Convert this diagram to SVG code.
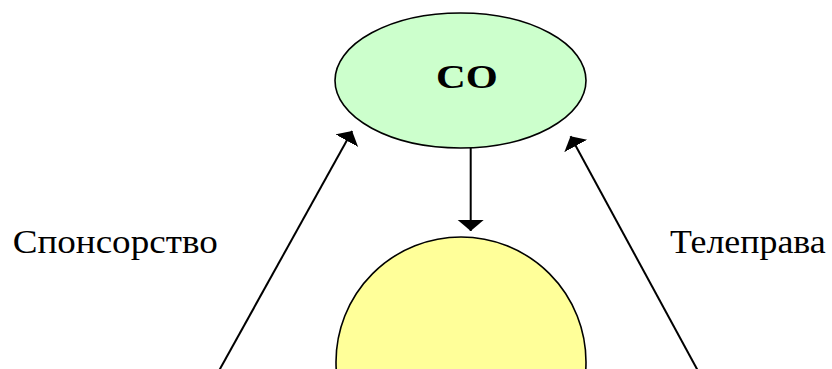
<svg xmlns="http://www.w3.org/2000/svg" width="832" height="369" viewBox="0 0 832 369">
<style>
.lbl{font-size:34px;fill:#000}
.ttl{font-size:34px;font-weight:bold;fill:#000}
.edge{stroke:#000;stroke-width:2;fill:none}
</style>
<defs>
<marker id="ah" markerUnits="userSpaceOnUse" markerWidth="14" markerHeight="28" refX="11" refY="13" orient="auto" viewBox="0 0 14 28">
<path d="M0,0 L11,13 L0,26 z" fill="#000"/>
</marker>
</defs>
<rect width="832" height="369" fill="#fff"/>
<g id="node-circle">
<circle cx="461" cy="362" r="125" fill="#FFFF99" stroke="#000" stroke-width="1.6"/>
</g>
<g id="node-co">
<ellipse cx="460.5" cy="80.5" rx="125.5" ry="67.5" fill="#CCFFCC" stroke="#000" stroke-width="1.6"/>
<text class="ttl" font-family="Liberation Serif, serif" x="436" y="88" textLength="61.7" lengthAdjust="spacingAndGlyphs">СО</text>
</g>
<g id="connectors">
<path class="edge" d="M470.7,148 L470.7,231" marker-end="url(#ah)"/>
<path class="edge" d="M214.4,379 L352.1,131" marker-end="url(#ah)"/>
<path class="edge" d="M702.4,379 L570.5,136.3" marker-end="url(#ah)"/>
</g>
<g id="labels">
<text class="lbl" font-family="Liberation Serif, serif" x="12.7" y="253" textLength="205" lengthAdjust="spacingAndGlyphs">Спонсорство</text>
<text class="lbl" font-family="Liberation Serif, serif" x="670" y="253" textLength="155.7" lengthAdjust="spacingAndGlyphs">Телеправа</text>
</g>
</svg>
